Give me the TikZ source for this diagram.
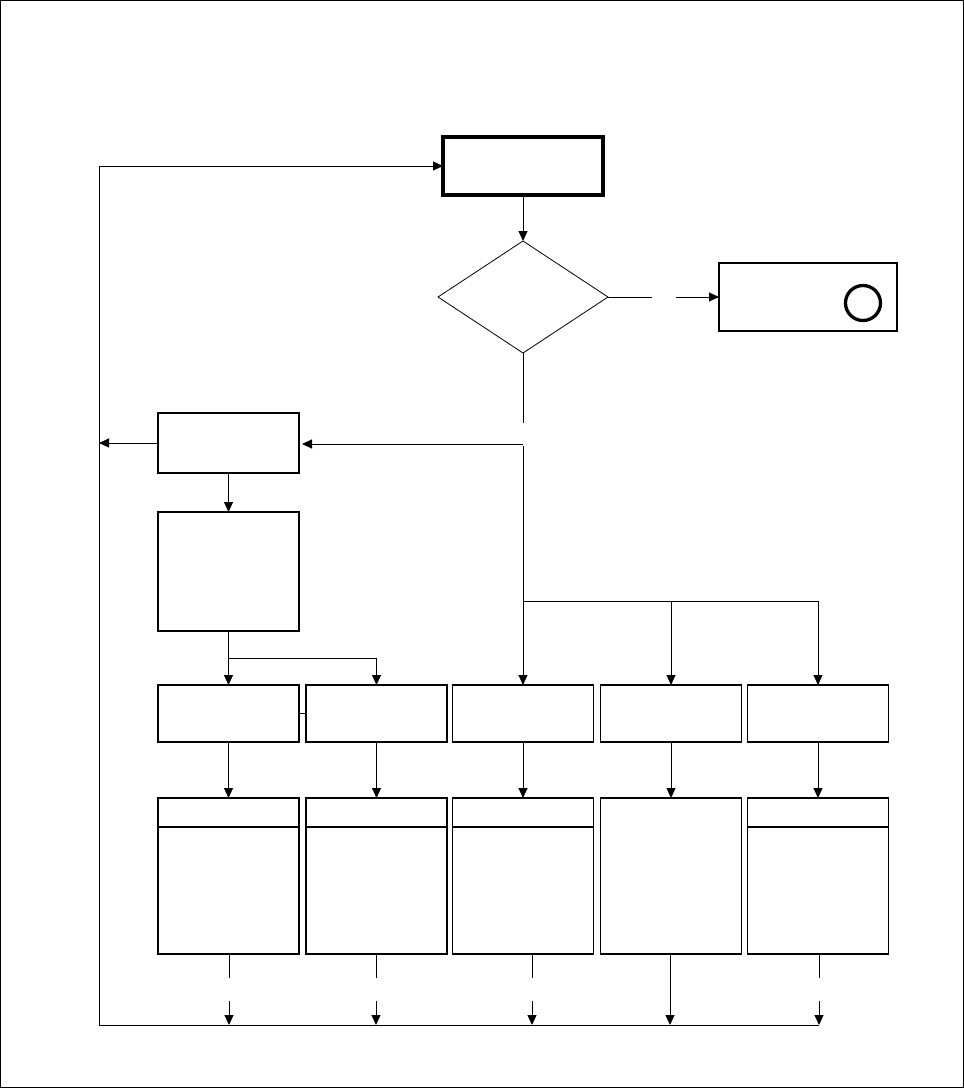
\documentclass[tikz,border=0pt]{standalone}
\usetikzlibrary{shapes.geometric,arrows.meta}
\begin{document}
\begin{tikzpicture}[x=1pt,y=-1pt,
  box/.style={draw,rectangle,line width=1.1pt,inner sep=0pt,outer sep=0pt,minimum width=141pt},
  conn/.style={line width=1pt},
  arr/.style={line width=1pt,-{Triangle[length=10pt,width=9pt]}},
]
\useasboundingbox (0,0) rectangle (964,1088);
\draw[line width=1.2pt] (0.6,0.6) rectangle (963.2,1087.4);

% nodes
\node[box,line width=3.5pt,minimum width=160pt,minimum height=58pt] (top) at (523,166) {};
\node[draw,diamond,line width=0.8pt,inner sep=0pt,outer sep=0pt,minimum width=170pt,minimum height=112pt] (dia) at (523,297) {};
\node[box,minimum width=178pt,minimum height=68pt] (R) at (808,297) {};
\node[draw,circle,line width=3.3pt,minimum size=35pt,inner sep=0pt] (circ) at (863,303) {};
\node[box,minimum height=60pt] (A) at (228.5,443) {};
\node[box,minimum height=119pt] (B) at (228.5,571.5) {};
\foreach \n/\x in {1/228.5,2/376.5,3/523,4/671,5/818}{
  \node[box,minimum height=57pt] (C\n) at (\x,713.5) {};
  \node[box,minimum height=156pt] (D\n) at (\x,876) {};
}
\foreach \n in {1,2,3,5}{
  \draw[line width=1.1pt] ([yshift=-29pt]D\n.north west) -- ([yshift=-29pt]D\n.north east);
}

% coordinates
\coordinate (cL) at (99,1025);
\coordinate (dEnd) at (523,423);
\coordinate (j1) at (523,444);
\coordinate (j2) at (523,446);
\coordinate (j3) at (523,601);
\coordinate (gap1) at (652,297);
\coordinate (gap2) at (676,297);
\coordinate (aL) at (99,443);
\coordinate (bj) at (228.5,658);
\coordinate (bot) at (819,1025);

% connectors
\draw[arr] (cL) |- (top.west);
\draw[conn] (cL) -- (bot);
\draw[arr] (top.south) -- (dia.north);
\draw[conn] (dia.east) -- (gap1);
\draw[arr] (gap2) -- (R.west);
\draw[conn] (dia.south) -- (dEnd);
\draw[arr,shorten >=3pt] (j1) -- (j1 -| A.east);
\draw[conn] (j2) -- (j3);
\draw[arr] (j3) -- (C3.north);
\draw[conn] (j3) -| (C5.north);
\draw[arr] (j3 -| C4.north) -- (C4.north);
\draw[arr] (j3 -| C5.north) -- (C5.north);
\draw[arr] (A.west) -- (aL);
\draw[arr] (A.south) -- (B.north);
\draw[arr] (B.south) -- (C1.north);
\draw[arr] (bj) -| (C2.north);
\draw[conn] (C1.east) -- (C2.west);
\foreach \n in {1,...,5}{
  \draw[arr] (C\n.south) -- (D\n.north);
}
% stubs below D boxes
\foreach \n/\x in {1/229,2/376,3/532,5/819}{
  \coordinate (s\n a) at (\x,954);
  \coordinate (s\n b) at (\x,978);
  \coordinate (s\n c) at (\x,1001);
  \coordinate (s\n d) at (\x,1025);
  \draw[conn] (s\n a) -- (s\n b);
  \draw[arr] (s\n c) -- (s\n d);
}
\coordinate (s4d) at (670,1025);
\draw[arr] (D4.south -| s4d) -- (s4d);
\end{tikzpicture}
\end{document}
